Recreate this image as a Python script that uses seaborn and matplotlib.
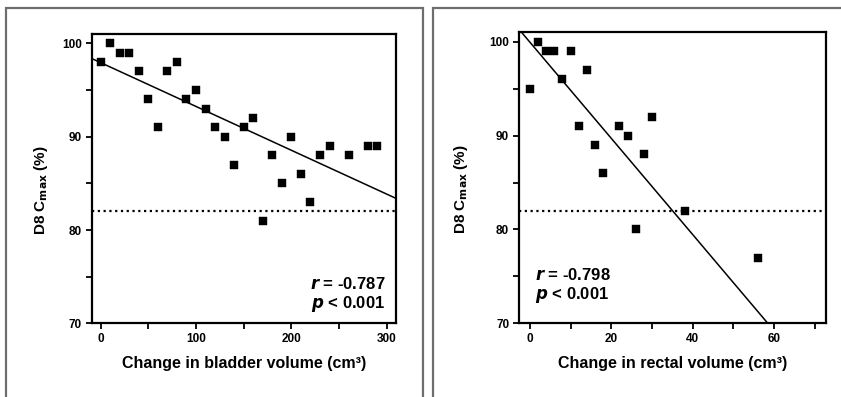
import numpy as np
import pandas as pd
import matplotlib
matplotlib.use("Agg")
import matplotlib.pyplot as plt
import seaborn as sns
from matplotlib.ticker import MultipleLocator

# Bladder panel data
bladder_change = [0, 10, 20, 30, 40, 50, 60, 70, 80, 90, 100, 110, 120, 130,
                  140, 150, 160, 170, 180, 190, 200, 210, 220, 230, 240, 260,
                  280, 290]
bladder_d8 = [98, 100, 99, 99, 97, 94, 91, 97, 98, 94, 95, 93, 91, 90,
              87, 91, 92, 81, 88, 85, 90, 86, 83, 88, 89, 88, 89, 89]
bladder_fit = (97.95, -0.047)   # intercept, slope
bladder_stats = ["-0.787", "0.001"]

# Rectal panel data
rectal_change = [0, 2, 4, 6, 8, 10, 14, 12, 16, 18, 22, 24, 28, 30, 26, 38, 56]
rectal_d8 = [95, 100, 99, 99, 96, 99, 97, 91, 89, 86, 91, 90, 88, 92, 80, 82, 77]
rectal_fit = (99.95, -0.5125)
rectal_stats = ["-0.798", "0.001"]

threshold = 82
y_ticks = [70, 80, 90, 100]

sns.set_style("ticks", {"axes.edgecolor": "black", "text.color": "black",
                        "axes.labelcolor": "black", "xtick.color": "black",
                        "ytick.color": "black"})
plt.rcParams["font.family"] = ["Liberation Sans", "DejaVu Sans"]
plt.rcParams["font.weight"] = "bold"

fig = plt.figure(figsize=(8.41, 3.97), dpi=100)

# outer frames around each panel
for x0, w in [(5.5 / 841, 417.5 / 841), (432.5 / 841, 420 / 841)]:
    fig.patches.append(plt.Rectangle((x0, -0.05), w, 1.05 - 7.5 / 397,
                                     transform=fig.transFigure, fill=False,
                                     edgecolor="#6e6e6e", lw=1.6))

panels = [
    dict(pos=[0.109, 0.1856, 0.362, 0.730], x=bladder_change, y=bladder_d8,
         fit=bladder_fit, stats=bladder_stats, xlim=(-9.4, 309.8),
         ylim=(70, 101.07), major=100, minor=50,
         xlabel="Change in bladder volume (cm³)", txt=(0.964, "right", 0.136, 0.066),
         ylab_x=-0.137),
    dict(pos=[0.617, 0.1856, 0.365, 0.733], x=rectal_change, y=rectal_d8,
         fit=rectal_fit, stats=rectal_stats, xlim=(-2.7, 72.7),
         ylim=(70, 101.0), major=20, minor=10,
         xlabel="Change in rectal volume (cm³)", txt=(0.052, "left", 0.167, 0.098),
         ylab_x=-0.160),
]

for p in panels:
    ax = fig.add_axes(p["pos"])
    df = pd.DataFrame({"x": p["x"], "y": p["y"]})
    sns.scatterplot(data=df, x="x", y="y", ax=ax, marker="s", s=32,
                    color="black", edgecolor="black", linewidth=0.3, zorder=3)
    ax.axline((0, p["fit"][0]), slope=p["fit"][1], color="black", lw=1.1)
    ax.axhline(threshold, color="black", lw=1.6, linestyle=(0, (1, 1.6)))

    ax.set_xlim(*p["xlim"])
    ax.set_ylim(*p["ylim"])
    ax.xaxis.set_major_locator(MultipleLocator(p["major"]))
    ax.xaxis.set_minor_locator(MultipleLocator(p["minor"]))
    ax.set_yticks(y_ticks)
    ax.yaxis.set_minor_locator(MultipleLocator(5))
    ax.tick_params(which="both", direction="out", width=1.3, length=4,
                   labelsize=8.5, pad=3, colors="black")
    for lab in ax.get_xticklabels() + ax.get_yticklabels():
        lab.set_fontweight("bold")
    for s in ax.spines.values():
        s.set_linewidth(1.6)
        s.set_color("black")
        s.set_visible(True)

    ax.set_xlabel(p["xlabel"], fontsize=11.5, fontweight="bold", labelpad=8,
                  color="black")
    ax.set_ylabel("D8 C$_{\\mathbf{max}}$ (%)", fontsize=11,
                  fontweight="bold", color="black")
    ax.yaxis.set_label_coords(p["ylab_x"], 0.46)

    tx, ha, ry, py = p["txt"]
    ax.text(tx, ry, "$\\mathbfit{r}$ = " + p["stats"][0], transform=ax.transAxes,
            ha=ha, va="center", fontsize=12, fontweight="bold", color="black")
    ax.text(tx, py, "$\\mathbfit{p}$ < " + p["stats"][1], transform=ax.transAxes,
            ha=ha, va="center", fontsize=12, fontweight="bold", color="black")

fig.savefig("out.png", dpi=100)
